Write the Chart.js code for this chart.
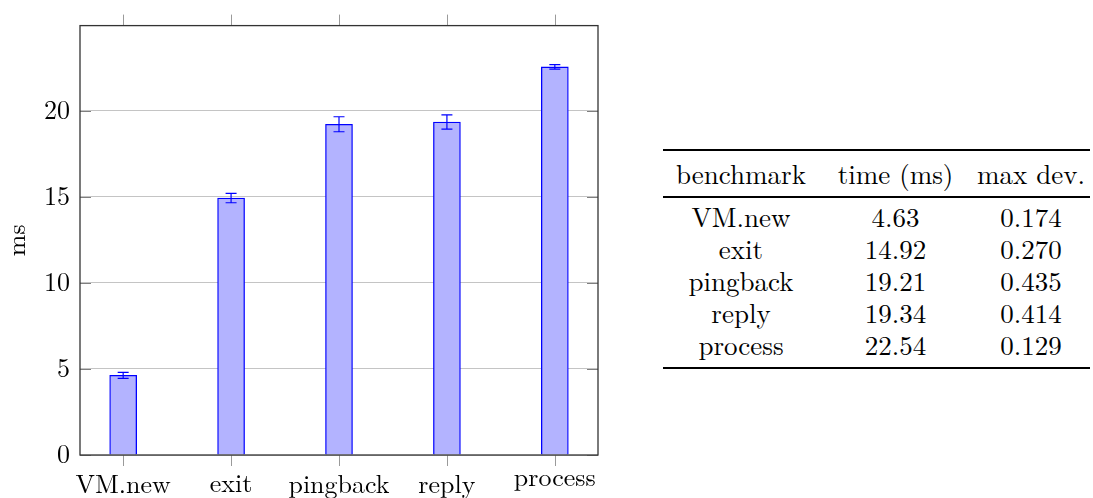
<!DOCTYPE html>
<html>
<head>
<meta charset="utf-8">
<script src="https://cdn.jsdelivr.net/npm/chart.js@4/dist/chart.umd.min.js"></script>
<style>
  html, body { margin: 0; padding: 0; background: #fff; width: 1093px; height: 498px; overflow: hidden; }
  #plot { position: absolute; left: 0; top: 0; width: 620px; height: 498px; }
  #tbl { position: absolute; left: 663px; top: 149px; width: 427px;
         font-family: "Latin Modern Roman", "Liberation Serif", serif; font-size: 27px; color: #000; }
  .rule { background: #000; }
  .thick { height: 2.2px; }
  .thin { height: 1.4px; }
  .row { display: flex; height: 32px; line-height: 32px; }
  .row span { text-align: center; white-space: nowrap; position: relative; top: -2px; }
  .c1 { width: 156px; } .c2 { width: 153px; } .c3 { width: 118px; }
</style>
</head>
<body>
<div id="plot"><canvas id="c"></canvas></div>
<div id="tbl"></div>
<script>
// benchmark results: mean time and maximum deviation per benchmark
const categories = ['VM.new', 'exit', 'pingback', 'reply', 'process'];
const timeMs = [4.63, 14.92, 19.21, 19.34, 22.54];
const maxDev = [0.174, 0.270, 0.435, 0.414, 0.129];
const yTicks = [0, 5, 10, 15, 20];
const tableHeader = ['benchmark', 'time (ms)', 'max dev.'];
const yTitle = 'ms';

const FONT = "'Latin Modern Roman', 'Liberation Serif', serif";
const FONT_SIZE = 26;

// results table next to the chart
(function buildTable() {
  const t = document.getElementById('tbl');
  const cls = ['c1', 'c2', 'c3'];
  const row = cells => '<div class="row">' +
    cells.map((c, i) => '<span class="' + cls[i] + '">' + c + '</span>').join('') + '</div>';
  let html = '<div class="rule thick"></div><div style="height:8px"></div>';
  html += row(tableHeader);
  html += '<div style="height:5px"></div><div class="rule thin"></div><div style="height:4px"></div>';
  categories.forEach((name, i) => {
    html += row([name, timeMs[i].toFixed(2), maxDev[i].toFixed(3)]);
  });
  html += '<div style="height:5px"></div><div class="rule thick"></div>';
  t.innerHTML = html;
})();

// axis frame, tick marks, category labels, error bars and y title
const decor = {
  id: 'decor',
  afterDatasetsDraw(chart) {
    const ctx = chart.ctx, xs = chart.scales.x, ys = chart.scales.y;
    ctx.save();
    ctx.strokeStyle = '#0000ff';
    ctx.lineWidth = 1.2;
    timeMs.forEach((v, i) => {
      const x = xs.getPixelForValue(i);
      const yt = ys.getPixelForValue(v + maxDev[i]);
      const yb = ys.getPixelForValue(v - maxDev[i]);
      ctx.beginPath();
      ctx.moveTo(x, yt); ctx.lineTo(x, yb);
      ctx.moveTo(x - 5.5, yt); ctx.lineTo(x + 5.5, yt);
      ctx.moveTo(x - 5.5, yb); ctx.lineTo(x + 5.5, yb);
      ctx.stroke();
    });
    ctx.restore();
  },
  afterDraw(chart) {
    const ctx = chart.ctx, a = chart.chartArea, xs = chart.scales.x, ys = chart.scales.y;
    ctx.save();
    // y tick marks inside both vertical edges
    ctx.strokeStyle = '#7f7f7f';
    ctx.lineWidth = 1;
    yTicks.forEach(v => {
      const y = Math.round(ys.getPixelForValue(v)) + 0.5;
      ctx.beginPath();
      ctx.moveTo(a.left, y); ctx.lineTo(a.left + 11, y);
      ctx.moveTo(a.right - 11, y); ctx.lineTo(a.right, y);
      ctx.stroke();
    });
    // x tick marks outside top and bottom edges
    ctx.strokeStyle = '#9a9a9a';
    categories.forEach((c, i) => {
      const x = Math.round(xs.getPixelForValue(i)) + 0.5;
      ctx.beginPath();
      ctx.moveTo(x, a.top - 11); ctx.lineTo(x, a.top);
      ctx.moveTo(x, a.bottom); ctx.lineTo(x, a.bottom + 11);
      ctx.stroke();
    });
    // frame
    ctx.strokeStyle = '#333';
    ctx.lineWidth = 1.3;
    ctx.strokeRect(a.left, a.top, a.right - a.left, a.bottom - a.top);
    // category labels, top of the ink aligned under the axis
    ctx.fillStyle = '#000';
    ctx.font = FONT_SIZE + 'px ' + FONT;
    ctx.textAlign = 'center';
    ctx.textBaseline = 'alphabetic';
    categories.forEach((c, i) => {
      const m = ctx.measureText(c);
      ctx.fillText(c, xs.getPixelForValue(i), a.bottom + 20 + m.actualBoundingBoxAscent);
    });
    // y axis title
    ctx.translate(25, (a.top + a.bottom) / 2);
    ctx.rotate(-Math.PI / 2);
    ctx.fillText(yTitle, 0, 0);
    ctx.restore();
  }
};

function draw() {
  new Chart(document.getElementById('c'), {
    type: 'bar',
    data: {
      datasets: [{
        data: timeMs.map((v, i) => ({ x: i, y: v })),
        backgroundColor: '#b3b3ff',
        borderColor: '#0000ff',
        borderWidth: 1.3,
        barThickness: 27
      }]
    },
    options: {
      responsive: true,
      maintainAspectRatio: false,
      animation: false,
      layout: { padding: { top: 24, right: 22, bottom: 0, left: 0 } },
      plugins: { legend: { display: false }, tooltip: { enabled: false } },
      scales: {
        x: {
          type: 'linear',
          offset: false,
          min: -0.4,
          max: 4.4,
          grid: { display: false },
          border: { display: false },
          ticks: { display: false },
          afterFit: s => { s.height = 43; }
        },
        y: {
          min: 0,
          max: 24.94,
          afterBuildTicks: s => { s.ticks = yTicks.map(v => ({ value: v })); },
          afterFit: s => { s.width = 80; },
          grid: { color: '#c4c4c4', lineWidth: 1, drawTicks: false },
          border: { display: false },
          ticks: { padding: 10, color: '#000', font: { family: FONT, size: FONT_SIZE } }
        }
      }
    },
    plugins: [decor]
  });
}

const fontReady = document.fonts && document.fonts.load
  ? document.fonts.load(FONT_SIZE + "px 'Latin Modern Roman'").catch(() => {})
  : Promise.resolve();
fontReady.then(draw);
</script>
</body>
</html>
